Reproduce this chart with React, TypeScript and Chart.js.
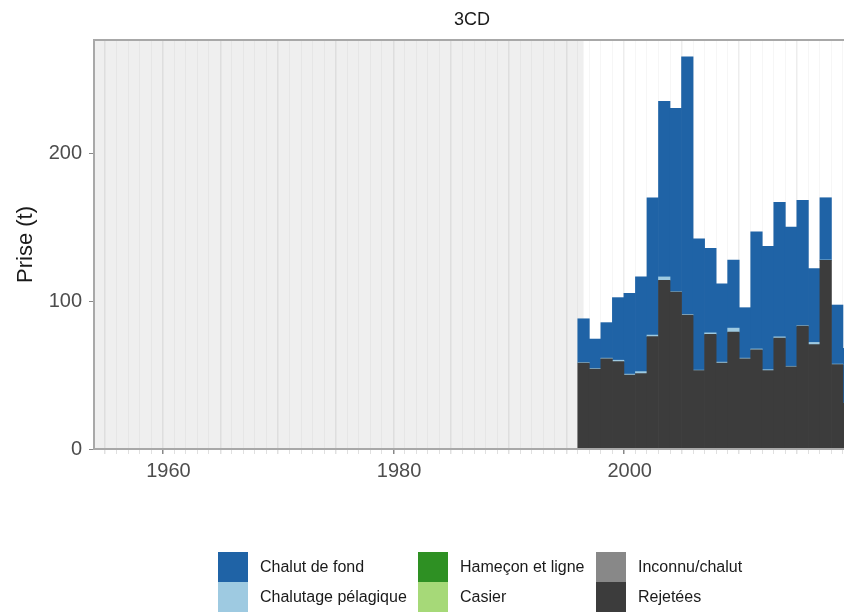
import React, { useEffect, useRef } from 'react';
import { Chart, registerables } from 'chart.js';

Chart.register(...registerables);

// ---- data ----
const years = [1996, 1997, 1998, 1999, 2000, 2001, 2002, 2003, 2004, 2005, 2006, 2007,
  2008, 2009, 2010, 2011, 2012, 2013, 2014, 2015, 2016, 2017, 2018, 2019];
const rejetees = [58, 54, 61, 59, 50, 51, 76, 114, 106, 90.5, 53, 77.5,
  58, 79, 61, 67, 53, 75, 55.5, 83, 70.5, 127.5, 57, 31];
const chalutagePelagique = [0.4, 0.4, 0.4, 1.0, 0.6, 1.3, 1.0, 2.3, 0.3, 0.4, 0.3, 1.0,
  0.7, 2.7, 0.4, 0.6, 0.6, 0.8, 0.4, 0.4, 1.5, 0.3, 0.4, 0];
const chalutDeFond = [29.6, 19.9, 24, 42.3, 54.6, 64.1, 92.8, 118.6, 123.9, 174.2, 88.8, 57.1,
  53, 46, 34.1, 79.2, 83.3, 90.9, 94.1, 84.6, 50, 42, 39.9, 37];
const xTickLabels = [1960, 1980, 2000];
const yTickLabels = [0, 100, 200];
const firstGridYear = 1954;
const lastGridYear = 2019;
const panelTitle = '3CD';
const yTitle = 'Prise (t)';
const shadedUntil = 1996;
const xMin = 1953.54;
const xMax = 2019.11;
const yMax = 276.4;

const legendCols = [
  [
    { label: 'Chalut de fond', color: '#1f63a6' },
    { label: 'Chalutage pélagique', color: '#9ecae1' },
  ],
  [
    { label: 'Hameçon et ligne', color: '#2e9023' },
    { label: 'Casier', color: '#a6d978' },
  ],
  [
    { label: 'Inconnu/chalut', color: '#888888' },
    { label: 'Rejetées', color: '#3c3c3c' },
  ],
];
const legendColX = [218, 418, 596];

const FONT = "'Liberation Sans', Arial, Helvetica, sans-serif";

const panelPlugin = {
  id: 'panelPlugin',
  beforeDraw(chart: any) {
    const { ctx, chartArea: a, scales } = chart;
    const xe = scales.x.getPixelForValue(shadedUntil);
    ctx.save();
    ctx.fillStyle = '#efefef';
    ctx.fillRect(a.left, a.top, xe - a.left, a.bottom - a.top);
    ctx.restore();
  },
  afterDraw(chart: any) {
    const { ctx, chartArea: a } = chart;
    ctx.save();
    ctx.strokeStyle = '#a8a8a8';
    ctx.lineWidth = 2;
    ctx.strokeRect(a.left, a.top, a.right - a.left, a.bottom - a.top);
    ctx.fillStyle = '#1a1a1a';
    ctx.font = `18px ${FONT}`;
    ctx.textAlign = 'center';
    ctx.textBaseline = 'middle';
    ctx.fillText(panelTitle, (a.left + a.right) / 2, 20);
    ctx.restore();
  },
};

export default function App() {
  const canvasRef = useRef<HTMLCanvasElement | null>(null);

  useEffect(() => {
    const toPts = (arr: number[]) => years.map((yr, i) => ({ x: yr, y: arr[i] }));
    const common = { borderWidth: 0, barPercentage: 1, categoryPercentage: 1 };
    const gridYears: number[] = [];
    for (let yr = firstGridYear; yr <= lastGridYear; yr++) gridYears.push(yr);

    const chart = new Chart(canvasRef.current as HTMLCanvasElement, {
      type: 'bar',
      data: {
        datasets: [
          { label: 'Rejetées', data: toPts(rejetees), backgroundColor: '#3c3c3c', ...common },
          { label: 'Chalutage pélagique', data: toPts(chalutagePelagique), backgroundColor: '#9ecae1', ...common },
          { label: 'Chalut de fond', data: toPts(chalutDeFond), backgroundColor: '#1f63a6', ...common },
        ] as any,
      },
      options: {
        responsive: true,
        maintainAspectRatio: false,
        animation: false,
        events: [],
        datasets: { bar: { barPercentage: 1, categoryPercentage: 1 } } as any,
        layout: { padding: { top: 40, right: 10, left: 0, bottom: 0 } },
        plugins: {
          legend: { display: false },
          tooltip: { enabled: false },
          title: { display: false },
        },
        scales: {
          x: {
            type: 'linear',
            min: xMin,
            max: xMax,
            bounds: 'data',
            stacked: true,
            offset: false,
            border: { display: false },
            grid: {
              color: (c: any) => (c.tick && c.tick.value % 5 === 0 ? 'rgba(0,0,0,0.07)' : 'rgba(0,0,0,0.035)'),
              lineWidth: (c: any) => (c.tick && c.tick.value % 5 === 0 ? 1.5 : 1),
              drawTicks: true,
              tickLength: 5,
              tickColor: (c: any) => (c.tick && xTickLabels.includes(c.tick.value) ? '#888' : 'rgba(0,0,0,0.12)'),
            },
            ticks: {
              autoSkip: false,
              maxRotation: 0,
              minRotation: 0,
              padding: 5,
              color: '#4d4d4d',
              font: { size: 20, family: FONT },
              callback: (v: any) => (xTickLabels.includes(Number(v)) ? String(v) : ''),
            },
            afterBuildTicks: (s: any) => { s.ticks = gridYears.map((v) => ({ value: v })); },
            afterFit: (s: any) => { s.height = 164; },
          } as any,
          y: {
            type: 'linear',
            min: 0,
            max: yMax,
            bounds: 'data',
            stacked: true,
            border: { display: false },
            grid: { drawOnChartArea: false, drawTicks: true, tickLength: 5, tickColor: '#888' },
            ticks: {
              padding: 7,
              color: '#4d4d4d',
              font: { size: 20, family: FONT },
              callback: (v: any) => String(v),
            },
            afterBuildTicks: (s: any) => { s.ticks = yTickLabels.map((v) => ({ value: v })); },
            title: {
              display: true,
              text: yTitle,
              color: '#1a1a1a',
              font: { size: 22, family: FONT },
              padding: { top: 13, bottom: 0 },
            },
            afterFit: (s: any) => { s.width = 94; },
          } as any,
        },
      },
      plugins: [panelPlugin],
    });
    return () => chart.destroy();
  }, []);

  return (
    <div style={{ position: 'fixed', left: 0, top: 0, width: 844, height: 613, overflow: 'hidden', background: '#fff', fontFamily: FONT }}>
      <div style={{ position: 'absolute', left: 0, top: 0, width: 860, height: 613 }}>
        <canvas ref={canvasRef} />
      </div>
      {legendCols.map((col, ci) =>
        col.map((item, ri) => (
          <div key={`${ci}-${ri}`} style={{ position: 'absolute', left: legendColX[ci], top: 552 + ri * 30, height: 30, display: 'flex', alignItems: 'center', whiteSpace: 'nowrap' }}>
            <div style={{ width: 30, height: 30, background: item.color }} />
            <span style={{ marginLeft: 12, fontSize: 16, color: '#1a1a1a' }}>{item.label}</span>
          </div>
        ))
      )}
    </div>
  );
}
